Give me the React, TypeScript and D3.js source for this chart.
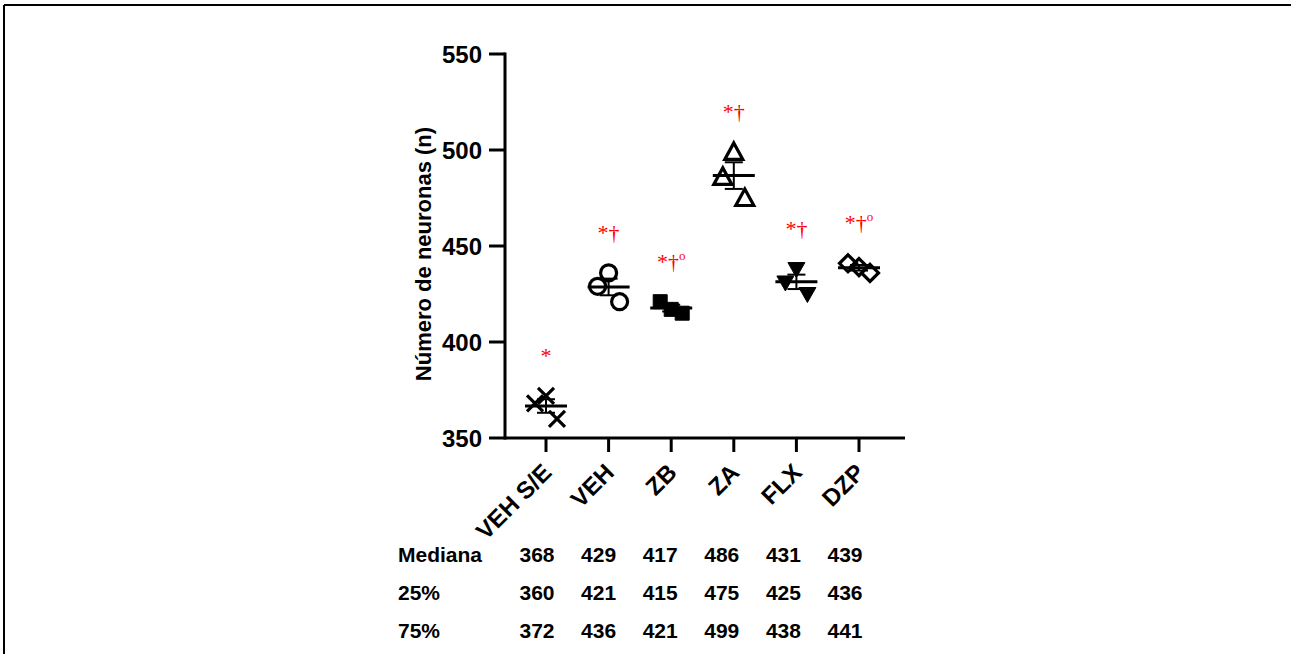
import React from "react";
import * as d3 from "d3";

const categories = ["VEH S/E", "VEH", "ZB", "ZA", "FLX", "DZP"];

// one value per animal, in the order the points are scattered (left, centre, right)
const vehSE = [368, 372, 360];
const veh = [429, 436, 421];
const zb = [421, 417, 415];
const za = [486, 499, 475];
const flx = [431, 438, 425];
const dzp = [441, 439, 436];
const groupValues = [vehSE, veh, zb, za, flx, dzp];

// table under the axis
const medianRow = [368, 429, 417, 486, 431, 439];
const q25Row = [360, 421, 415, 475, 425, 436];
const q75Row = [372, 436, 421, 499, 438, 441];
const tableRows = [
  { label: "Mediana", values: medianRow },
  { label: "25%", values: q25Row },
  { label: "75%", values: q75Row },
];

const sigLabels = ["*", "*†", "*†", "*†", "*†", "*†"];
const sigSuffix = ["", "", "o", "", "", "o"];

const yTicks = [350, 400, 450, 500, 550];

const W = 1291;
const H = 654;
const jitter = [-11, 0, 11];
const SANS = "'Liberation Sans', Arial, sans-serif";
const SERIF = "'Liberation Serif', 'Times New Roman', serif";

const markerPath = (kind: number) => {
  const p = d3.path();
  switch (kind) {
    case 0: // x
      p.moveTo(-8, -8); p.lineTo(8, 8);
      p.moveTo(-8, 8); p.lineTo(8, -8);
      break;
    case 1: // open circle
      p.moveTo(8, 0); p.arc(0, 0, 8, 0, Math.PI * 2);
      break;
    case 2: // filled square
      p.rect(-7, -7, 14, 14);
      break;
    case 3: // open triangle up
      p.moveTo(0, -9); p.lineTo(9, 7.5); p.lineTo(-9, 7.5); p.closePath();
      break;
    case 4: // filled triangle down
      p.moveTo(-8.5, -6.5); p.lineTo(8.5, -6.5); p.lineTo(0, 8.5); p.closePath();
      break;
    default: // open diamond
      p.moveTo(0, -8.5); p.lineTo(8.5, 0); p.lineTo(0, 8.5); p.lineTo(-8.5, 0); p.closePath();
  }
  return p.toString();
};
const filled = [false, false, true, false, true, false];

export default function App() {
  const y = d3.scaleLinear().domain([350, 550]).range([438, 54]);
  const x = d3.scalePoint().domain(categories).range([546, 859]);
  const tableX = d3.scalePoint().domain(categories).range([537, 845]);
  const axisX0 = 505;
  const axisX1 = 905;

  return (
    <div style={{ position: "absolute", left: 0, top: 0 }}>
      <svg width={W} height={H} style={{ display: "block", background: "#fff" }}>
        {/* frame */}
        <line x1={4} y1={5} x2={W} y2={5} stroke="#000" strokeWidth={2} />
        <line x1={4} y1={5} x2={4} y2={H} stroke="#000" strokeWidth={2} />

        {/* y axis */}
        <line x1={axisX0} y1={y(550) - 1.5} x2={axisX0} y2={y(350) + 1.5} stroke="#000" strokeWidth={3} />
        {yTicks.map((t) => (
          <g key={t}>
            <line x1={489} x2={axisX0} y1={y(t)} y2={y(t)} stroke="#000" strokeWidth={3} />
            <text x={482} y={y(t)} dy="0.36em" textAnchor="end"
              fontFamily={SANS} fontWeight="bold" fontSize={24}>{t}</text>
          </g>
        ))}
        <text transform={`translate(431, 254) rotate(-90)`} textAnchor="middle"
          fontFamily={SANS} fontWeight="bold" fontSize={22}>Número de neuronas (n)</text>

        {/* x axis */}
        <line x1={axisX0} x2={axisX1} y1={y(350)} y2={y(350)} stroke="#000" strokeWidth={3} />
        {categories.map((c) => (
          <g key={c}>
            <line x1={x(c)} x2={x(c)} y1={y(350)} y2={y(350) + 14} stroke="#000" strokeWidth={3} />
            <text transform={`translate(${(x(c) as number) + 7}, 474) rotate(-45)`} textAnchor="end"
              fontFamily={SANS} fontWeight="bold" fontSize={24}>{c}</text>
          </g>
        ))}

        {/* points, mean and SEM */}
        {categories.map((c, gi) => {
          const vals = groupValues[gi];
          const cx = x(c) as number;
          const mean = d3.mean(vals) as number;
          const sem = (d3.deviation(vals) as number) / Math.sqrt(vals.length);
          return (
            <g key={c}>
              {vals.map((v, i) => (
                <path key={i} d={markerPath(gi)} transform={`translate(${cx + jitter[i]}, ${y(v)})`}
                  fill={filled[gi] ? "#000" : "none"} stroke="#000"
                  strokeWidth={filled[gi] ? 1 : 3.2} />
              ))}
              <line x1={cx - 21} x2={cx + 21} y1={y(mean)} y2={y(mean)} stroke="#000" strokeWidth={3} />
              <line x1={cx} x2={cx} y1={y(mean - sem)} y2={y(mean + sem)} stroke="#000" strokeWidth={2} />
              <line x1={cx - 9} x2={cx + 9} y1={y(mean - sem)} y2={y(mean - sem)} stroke="#000" strokeWidth={2} />
              <line x1={cx - 9} x2={cx + 9} y1={y(mean + sem)} y2={y(mean + sem)} stroke="#000" strokeWidth={2} />
              <text x={cx} y={y(d3.max(vals) as number) - 33} textAnchor="middle"
                fontFamily={SERIF} fontSize={22} fill="#ff0000">
                {sigLabels[gi]}
                {sigSuffix[gi] && <tspan fontSize={13} dy={-9}>{sigSuffix[gi]}</tspan>}
              </text>
            </g>
          );
        })}

        {/* table */}
        {tableRows.map((row, ri) => (
          <g key={row.label} fontFamily={SANS} fontWeight="bold" fontSize={21}>
            <text x={398} y={562 + ri * 38}>{row.label}</text>
            {row.values.map((v, i) => (
              <text key={i} x={tableX(categories[i])} y={562 + ri * 38} textAnchor="middle">{v}</text>
            ))}
          </g>
        ))}
      </svg>
    </div>
  );
}
